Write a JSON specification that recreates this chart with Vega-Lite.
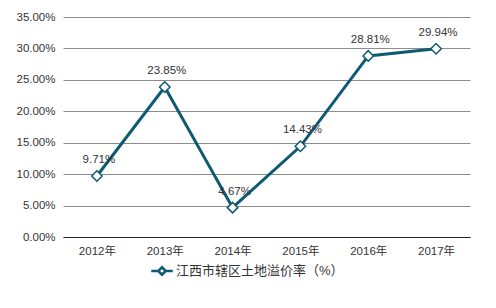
{
  "$schema": "https://vega.github.io/schema/vega-lite/v6.json",
  "autosize": "none",
  "width": 407,
  "height": 220,
  "padding": {"left": 63, "top": 17, "right": 26, "bottom": 71},
  "background": "white",
  "config": {
    "font": "Liberation Sans",
    "view": {"stroke": null},
    "axis": {"labelFont": "Liberation Sans, Noto Sans CJK SC", "labelFontSize": 11.5, "labelColor": "#333333"}
  },
  "data": {
    "values": [
      {"year": "2012年", "rate": 0.0971},
      {"year": "2013年", "rate": 0.2385},
      {"year": "2014年", "rate": 0.0467},
      {"year": "2015年", "rate": 0.1443},
      {"year": "2016年", "rate": 0.2881},
      {"year": "2017年", "rate": 0.2994}
    ]
  },
  "encoding": {
    "x": {
      "field": "year", "type": "ordinal", "title": null,
      "scale": {"paddingInner": 0, "paddingOuter": 0.5},
      "axis": {"labelAngle": 0, "ticks": false, "domainColor": "#222222", "labelPadding": 8, "grid": false}
    },
    "y": {
      "field": "rate", "type": "quantitative", "title": null,
      "scale": {"domain": [0, 0.35], "nice": false},
      "axis": {"format": ".2%", "values": [0, 0.05, 0.1, 0.15, 0.2, 0.25, 0.3, 0.35], "ticks": false, "domain": false, "gridColor": "#8c8c8c", "gridWidth": 1, "labelPadding": 8}
    }
  },
  "layer": [
    {
      "mark": {"type": "line", "strokeWidth": 3},
      "encoding": {
        "color": {
          "datum": "江西市辖区土地溢价率（%）",
          "scale": {"range": ["#0f5a73"]},
          "legend": {
            "orient": "none", "legendX": 87, "legendY": 242, "title": null,
            "symbolType": "M-1,0H-0.35M0.35,0H1M0,-0.35L0.35,0L0,0.35L-0.35,0Z",
            "symbolSize": 460, "symbolStrokeWidth": 2.5, "symbolFillColor": "white", "symbolStrokeColor": "#0f5a73",
            "labelFont": "Liberation Sans, Noto Sans CJK SC", "labelFontSize": 13, "labelColor": "#333333", "labelOffset": 2, "labelLimit": 300
          }
        }
      }
    },
    {
      "mark": {"type": "point", "shape": "diamond", "filled": true, "fill": "white", "stroke": "#0f5a73", "strokeWidth": 1.5, "size": 110, "opacity": 1}
    },
    {
      "mark": {"type": "text", "dy": -16, "dx": 2, "fontSize": 11.5, "font": "Liberation Sans", "color": "#333333"},
      "encoding": {"text": {"field": "rate", "format": ".2%"}}
    }
  ]
}
